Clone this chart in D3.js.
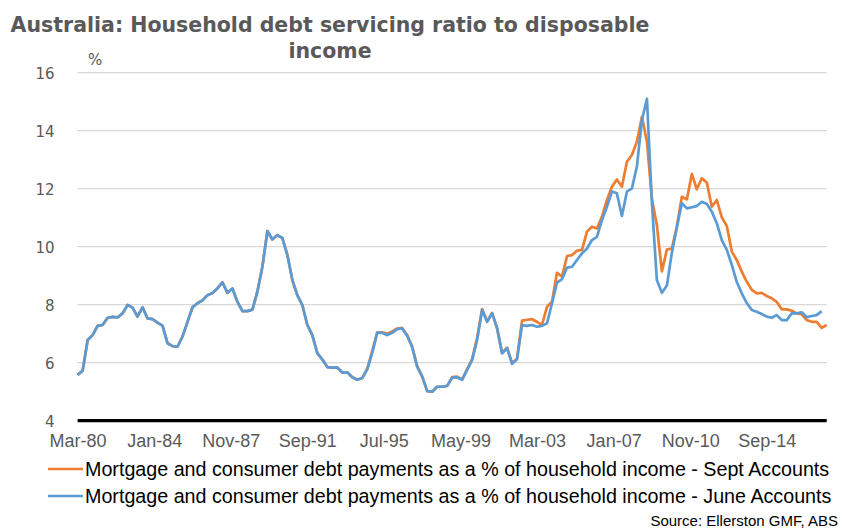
<!DOCTYPE html>
<html>
<head>
<meta charset="utf-8">
<script src="https://cdn.jsdelivr.net/npm/d3@7/dist/d3.min.js"></script>
<style>
  html, body { margin: 0; padding: 0; background: #fff; }
  svg { display: block; }
</style>
</head>
<body>
<svg id="chart" width="842" height="528"></svg>
<script>
// Quarterly observations, Mar-1980 onwards (one value per quarter)
const startPeriod = new Date(1980, 2, 1);

// Debt servicing ratio, % of household disposable income - June Accounts (Mar-80 .. Jun-17)
const juneAccounts = [
  5.58, 5.72, 6.78, 6.95, 7.27, 7.30, 7.55, 7.58, 7.56, 7.70,
  7.99, 7.90, 7.59, 7.91, 7.53, 7.50, 7.38, 7.28, 6.67, 6.57,
  6.55, 6.90, 7.41, 7.91, 8.05, 8.15, 8.33, 8.40, 8.56, 8.77,
  8.41, 8.56, 8.10, 7.78, 7.78, 7.83, 8.45, 9.31, 10.54, 10.25,
  10.40, 10.30, 9.71, 8.85, 8.33, 7.99, 7.30, 6.95, 6.33, 6.11,
  5.85, 5.83, 5.84, 5.66, 5.67, 5.50, 5.41, 5.47, 5.77, 6.34,
  7.03, 7.03, 6.95, 7.03, 7.16, 7.18, 6.92, 6.53, 5.86, 5.52,
  5.02, 5.00, 5.17, 5.17, 5.20, 5.48, 5.50, 5.41, 5.75, 6.09,
  6.78, 7.82, 7.41, 7.70, 7.19, 6.32, 6.50, 5.96, 6.12, 7.30,
  7.27, 7.30, 7.24, 7.27, 7.36, 8.05, 8.76, 8.88, 9.28, 9.31,
  9.54, 9.77, 9.94, 10.23, 10.34, 10.92, 11.38, 11.90, 11.84, 11.06,
  11.90, 12.01, 12.76, 14.37, 15.10, 11.50, 8.85, 8.41, 8.66, 9.80,
  10.65, 11.50, 11.32, 11.36, 11.40, 11.55, 11.47, 11.21, 10.81, 10.23,
  9.89, 9.37, 8.79, 8.39, 8.05, 7.82, 7.76, 7.68, 7.59, 7.55,
  7.64, 7.47, 7.47, 7.70, 7.70, 7.74, 7.57, 7.61, 7.64, 7.78
];

// Debt servicing ratio, % of household disposable income - Sept Accounts (Mar-80 .. Sep-17)
const septAccounts = [
  5.58, 5.72, 6.78, 6.95, 7.27, 7.30, 7.55, 7.58, 7.56, 7.70,
  7.99, 7.90, 7.59, 7.91, 7.53, 7.50, 7.38, 7.28, 6.67, 6.57,
  6.55, 6.90, 7.41, 7.91, 8.05, 8.15, 8.33, 8.40, 8.56, 8.77,
  8.41, 8.56, 8.10, 7.78, 7.78, 7.83, 8.45, 9.31, 10.54, 10.25,
  10.40, 10.30, 9.71, 8.85, 8.33, 7.99, 7.30, 6.95, 6.33, 6.11,
  5.85, 5.83, 5.84, 5.66, 5.67, 5.50, 5.41, 5.47, 5.80, 6.40,
  7.05, 7.05, 7.00, 7.08, 7.18, 7.20, 6.95, 6.55, 5.88, 5.53,
  5.02, 5.00, 5.17, 5.17, 5.20, 5.50, 5.52, 5.42, 5.78, 6.12,
  6.85, 7.85, 7.43, 7.72, 7.20, 6.34, 6.52, 5.98, 6.14, 7.45,
  7.48, 7.50, 7.41, 7.30, 7.93, 8.10, 9.10, 8.97, 9.68, 9.71,
  9.86, 9.89, 10.52, 10.69, 10.63, 11.03, 11.61, 12.07, 12.32, 12.07,
  12.93, 13.16, 13.62, 14.48, 13.62, 11.65, 10.75, 9.15, 9.90, 9.94,
  10.69, 11.72, 11.63, 12.51, 11.98, 12.36, 12.21, 11.38, 11.61, 11.01,
  10.71, 9.83, 9.54, 9.14, 8.79, 8.51, 8.39, 8.41, 8.30, 8.22,
  8.10, 7.84, 7.84, 7.79, 7.70, 7.67, 7.47, 7.41, 7.41, 7.20,
  7.30
];

const seriesNames = [
  "Mortgage and consumer debt payments as a % of household income - Sept Accounts",
  "Mortgage and consumer debt payments as a % of household income - June Accounts"
];
const seriesColors = ["#ED7D31", "#5B9BD5"];

const xTickLabels = ["Mar-80", "Jan-84", "Nov-87", "Sep-91", "Jul-95",
                     "May-99", "Mar-03", "Jan-07", "Nov-10", "Sep-14"];
const xTickDates = ["1980-03", "1984-01", "1987-11", "1991-09", "1995-07",
                    "1999-05", "2003-03", "2007-01", "2010-11", "2014-09"];
const yTicks = [4, 6, 8, 10, 12, 14, 16];

const titleLines = ["Australia: Household debt servicing ratio to disposable", "income"];
const sourceText = "Source: Ellerston GMF, ABS";

// ---- layout ----
const svg = d3.select("#chart");
const plotLeft = 77.6, plotRight = 826.7, plotTop = 72.7, plotBottom = 420.7;
const grey = "#595959";

const quarterDate = i => d3.timeMonth.offset(startPeriod, 3 * i);
const parseYM = d3.timeParse("%Y-%m");

const x = d3.scaleTime()
  .domain([startPeriod, quarterDate(septAccounts.length - 1)])
  .range([plotLeft, plotRight]);
const y = d3.scaleLinear().domain([4, 16]).range([plotBottom, plotTop]);

// title
const title = svg.append("g").attr("font-family", "'DejaVu Sans', Verdana, sans-serif")
  .attr("font-weight", "bold").attr("fill", grey).attr("text-anchor", "middle");
title.append("text").attr("x", 330).attr("y", 32).attr("font-size", 20.5).text(titleLines[0]);
title.append("text").attr("x", 330).attr("y", 58).attr("font-size", 20.5).text(titleLines[1]);

// gridlines
svg.append("g")
  .selectAll("line").data(yTicks.filter(v => v > 4)).join("line")
  .attr("x1", plotLeft).attr("x2", plotRight)
  .attr("y1", d => y(d)).attr("y2", d => y(d))
  .attr("stroke", "#d9d9d9").attr("stroke-width", 1.3);

// y axis labels
const yAxis = svg.append("g").attr("transform", `translate(${plotLeft - 23},0)`)
  .call(d3.axisLeft(y).tickValues(yTicks).tickSize(0).tickPadding(0));
yAxis.select(".domain").remove();
yAxis.selectAll("text")
  .attr("font-family", "'DejaVu Sans', Verdana, sans-serif")
  .attr("font-size", 15).attr("fill", grey).attr("dy", "0.36em");

// unit label
svg.append("text").attr("x", 88).attr("y", 65)
  .attr("font-family", "'DejaVu Sans', Verdana, sans-serif")
  .attr("font-size", 15).attr("fill", grey).text("%");

// lines (Sept underneath, June on top)
const line = d3.line().x((d, i) => x(quarterDate(i))).y(d => y(d));
[septAccounts, juneAccounts].forEach((vals, k) => {
  svg.append("path").datum(vals)
    .attr("d", line)
    .attr("fill", "none")
    .attr("stroke", seriesColors[k])
    .attr("stroke-width", 2.7)
    .attr("stroke-linejoin", "round");
});

// baseline axis at 4
svg.append("line").attr("x1", plotLeft).attr("x2", plotRight)
  .attr("y1", y(4)).attr("y2", y(4))
  .attr("stroke", "#000").attr("stroke-width", 3.2);

// x axis labels
const xAxis = svg.append("g").attr("transform", `translate(0,${plotBottom + 12})`)
  .call(d3.axisBottom(x)
    .tickValues(xTickDates.map(parseYM))
    .tickFormat((d, i) => xTickLabels[i])
    .tickSize(0).tickPadding(0));
xAxis.select(".domain").remove();
xAxis.selectAll("text")
  .attr("font-family", "'Liberation Sans Narrow', 'Arial Narrow', 'Liberation Sans', sans-serif")
  .attr("font-size", 18).attr("fill", grey).attr("dy", "0.8em");

// legend
const legend = svg.append("g");
seriesNames.forEach((name, k) => {
  const ly = 469 + k * 27;
  legend.append("line").attr("x1", 48).attr("x2", 83).attr("y1", ly).attr("y2", ly)
    .attr("stroke", seriesColors[k]).attr("stroke-width", 2.7);
  legend.append("text").attr("x", 85).attr("y", ly + 7)
    .attr("font-family", "'Liberation Sans Narrow', 'Arial Narrow', 'Liberation Sans', sans-serif")
    .attr("font-size", 19.7).attr("fill", "#000").text(name);
});

// source note
svg.append("text").attr("x", 838).attr("y", 526).attr("text-anchor", "end")
  .attr("font-family", "'Liberation Sans Narrow', 'Arial Narrow', 'Liberation Sans', sans-serif")
  .attr("font-size", 15).attr("fill", "#000").text(sourceText);
</script>
</body>
</html>
